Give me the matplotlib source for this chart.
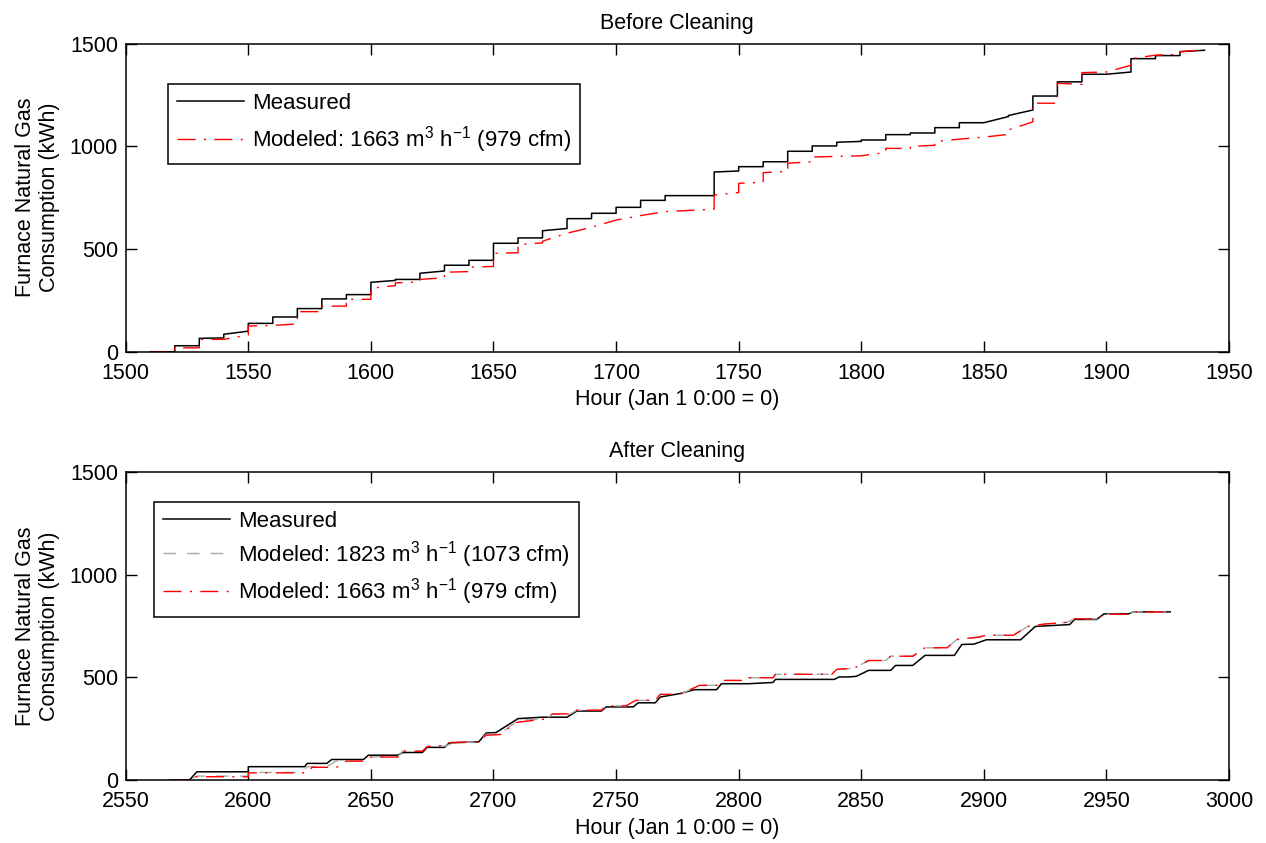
import matplotlib
matplotlib.use('Agg')
import matplotlib.pyplot as plt

plt.rcParams['font.family'] = ['Liberation Sans', 'DejaVu Sans']
plt.rcParams['mathtext.fontset'] = 'custom'
plt.rcParams['mathtext.rm'] = 'Liberation Sans'
plt.rcParams['mathtext.it'] = 'Liberation Sans:italic'
plt.rcParams['font.size'] = 15.5

# --- Before cleaning: measured vs modeled (1663 m3/h) cumulative gas use ---
before_meas_h = [1510, 1520, 1520, 1530, 1530, 1540, 1540, 1550, 1550, 1560, 1560, 1570, 1570,
                 1580, 1580, 1590, 1590, 1600, 1600, 1610, 1610, 1620, 1620, 1630, 1630, 1640,
                 1640, 1650, 1650, 1660, 1660, 1670, 1670, 1680, 1680, 1690, 1690, 1700, 1700,
                 1710, 1710, 1720, 1720, 1740, 1740, 1750, 1750, 1760, 1760, 1770, 1770, 1780,
                 1780, 1790, 1790, 1800, 1800, 1810, 1810, 1820, 1820, 1830, 1830, 1840, 1840,
                 1850, 1860, 1860, 1870, 1870, 1880, 1880, 1890, 1890, 1900, 1910, 1910, 1920,
                 1920, 1930, 1930, 1940]
before_meas_kwh = [0, 0, 29, 29, 65, 67, 85, 100, 138, 138, 169, 169, 210,
                   210, 257, 257, 278, 278, 338, 347, 352, 352, 382, 393, 421, 421,
                   445, 445, 528, 528, 554, 554, 589, 600, 648, 648, 674, 674, 703,
                   703, 737, 737, 760, 760, 875, 880, 901, 901, 925, 925, 976, 976,
                   1002, 1002, 1020, 1024, 1031, 1031, 1057, 1057, 1065, 1065, 1091, 1091, 1115,
                   1115, 1145, 1150, 1177, 1245, 1245, 1314, 1314, 1351, 1351, 1362, 1427, 1427,
                   1442, 1442, 1461, 1468]

before_mod_h = [1510, 1520, 1520, 1530, 1530, 1540, 1550, 1550, 1560, 1570, 1570, 1580, 1580,
                1590, 1590, 1600, 1600, 1610, 1610, 1620, 1620, 1630, 1630, 1640, 1640, 1650,
                1650, 1660, 1660, 1670, 1670, 1680, 1690, 1700, 1710, 1720, 1740, 1740, 1750,
                1750, 1760, 1760, 1770, 1770, 1780, 1780, 1800, 1810, 1810, 1820, 1820, 1830,
                1830, 1840, 1850, 1860, 1860, 1870, 1870, 1880, 1880, 1890, 1890, 1900, 1910,
                1910, 1920, 1930, 1930, 1940]
before_mod_kwh = [0, 0, 19, 19, 60, 60, 82, 125, 128, 135, 195, 195, 222,
                  222, 255, 255, 309, 322, 335, 340, 352, 360, 387, 390, 412, 415,
                  479, 482, 521, 530, 538, 577, 606, 641, 663, 682, 694, 763, 775,
                  820, 825, 872, 878, 918, 925, 948, 954, 970, 990, 990, 1000, 1005,
                  1023, 1035, 1045, 1058, 1080, 1119, 1210, 1210, 1307, 1302, 1359, 1362, 1395,
                  1427, 1444, 1448, 1461, 1470]

# --- After cleaning: measured vs two modeled flow rates ---
after_meas_h = [2568, 2576, 2579, 2600, 2600, 2623, 2624, 2632, 2634, 2647, 2649, 2661, 2663,
                2671, 2673, 2680, 2682, 2694, 2697, 2701, 2710, 2720, 2730, 2734, 2744, 2746,
                2757, 2759, 2766, 2768, 2776, 2782, 2791, 2793, 2804, 2814, 2815, 2839, 2841,
                2845, 2848, 2853, 2862, 2864, 2871, 2876, 2888, 2891, 2896, 2901, 2915, 2921,
                2935, 2937, 2946, 2949, 2959, 2961, 2976]
after_meas_kwh = [0, 0, 40, 40, 65, 65, 81, 81, 100, 100, 121, 121, 134,
                  134, 159, 159, 181, 186, 229, 231, 299, 306, 306, 336, 336, 356,
                  356, 376, 376, 404, 421, 440, 440, 469, 469, 475, 490, 490, 502,
                  502, 505, 534, 534, 558, 558, 607, 607, 660, 662, 683, 683, 748,
                  757, 782, 782, 809, 809, 819, 819]

after_mod1823_h = [2568, 2576, 2579, 2600, 2600, 2622, 2624, 2632, 2636, 2647, 2649, 2661, 2663,
                   2671, 2673, 2680, 2684, 2694, 2697, 2703, 2710, 2721, 2724, 2731, 2734, 2744,
                   2746, 2754, 2758, 2766, 2768, 2776, 2784, 2791, 2793, 2802, 2803, 2814, 2815,
                   2838, 2840, 2847, 2853, 2860, 2862, 2871, 2876, 2885, 2889, 2898, 2901, 2912,
                   2918, 2925, 2934, 2937, 2946, 2949, 2959, 2961, 2976]
after_mod1823_kwh = [0, 0, 19, 19, 37, 37, 65, 65, 94, 94, 113, 113, 142,
                     142, 162, 165, 181, 186, 222, 228, 291, 297, 320, 320, 340, 340,
                     361, 361, 388, 388, 417, 417, 461, 461, 485, 485, 498, 498, 515,
                     515, 539, 544, 582, 582, 603, 603, 644, 644, 684, 696, 705, 705,
                     748, 760, 768, 785, 785, 807, 807, 819, 819]

after_mod1663_h = [2568, 2576, 2579, 2600, 2600, 2624, 2626, 2636, 2640, 2648, 2650, 2661, 2663,
                   2671, 2673, 2679, 2683, 2694, 2697, 2703, 2709, 2721, 2724, 2731, 2734, 2744,
                   2746, 2754, 2758, 2766, 2768, 2776, 2784, 2791, 2793, 2802, 2803, 2814, 2815,
                   2838, 2840, 2847, 2853, 2860, 2862, 2871, 2876, 2885, 2889, 2898, 2901, 2912,
                   2918, 2925, 2934, 2937, 2946, 2949, 2959, 2961, 2976]
after_mod1663_kwh = [0, 0, 16, 16, 35, 35, 62, 62, 92, 92, 112, 112, 140,
                     140, 163, 168, 183, 186, 218, 222, 280, 297, 322, 322, 340, 340,
                     361, 361, 388, 388, 417, 417, 461, 461, 485, 485, 498, 498, 515,
                     515, 539, 544, 582, 582, 603, 603, 644, 644, 684, 696, 705, 705,
                     748, 760, 768, 785, 785, 807, 807, 819, 819]

lab_meas = 'Measured'
lab_1823 = 'Modeled: 1823 m$^{3}$ h$^{-1}$ (1073 cfm)'
lab_1663 = 'Modeled: 1663 m$^{3}$ h$^{-1}$ (979 cfm)'
ylab = 'Furnace Natural Gas\nConsumption (kWh)'
xlab = 'Hour (Jan 1 0:00 = 0)'

fig = plt.figure(figsize=(12.66, 8.43), dpi=100)
ax1 = fig.add_axes([0.0993, 0.5828, 0.8715, 0.3654])
ax2 = fig.add_axes([0.0993, 0.0747, 0.8715, 0.3654])

red_dd = (13, 6, 1.5, 6)

ax1.plot(before_meas_h, before_meas_kwh, color='black', lw=1.1, label=lab_meas)
ax1.plot(before_mod_h, before_mod_kwh, color='red', lw=1.0, dashes=red_dd, label=lab_1663)
ax1.set_xlim(1500, 1950)
ax1.set_title('Before Cleaning', pad=10.5, fontsize=15.5)

ax2.plot(after_meas_h, after_meas_kwh, color='black', lw=1.1, label=lab_meas)
ax2.plot(after_mod1823_h, after_mod1823_kwh, color='#a8a8a8', lw=1.0, dashes=(9, 8), label=lab_1823)
ax2.plot(after_mod1663_h, after_mod1663_kwh, color='red', lw=1.0, dashes=red_dd, label=lab_1663)
ax2.set_xlim(2550, 3000)
ax2.set_title('After Cleaning', pad=10.5, fontsize=15.5)

for ax in (ax1, ax2):
    ax.set_ylim(0, 1500)
    ax.set_yticks([0, 500, 1000, 1500])
    ax.set_xlabel(xlab, labelpad=4)
    ax.set_ylabel(ylab, labelpad=7)
    ax.tick_params(direction='in', top=True, right=True, length=8, width=1.0)
    ax.tick_params(axis='x', pad=8)
    ax.tick_params(axis='y', pad=5.5)
    for s in ax.spines.values():
        s.set_linewidth(1.1)

leg_kw = dict(loc='upper left', borderaxespad=0, fancybox=False, edgecolor='black',
              framealpha=1, handlelength=3.0, handletextpad=0.36, borderpad=0.42,
              fontsize=16)
l1 = ax1.legend(bbox_to_anchor=(0.038, 0.870), labelspacing=0.45, **leg_kw)
l2 = ax2.legend(bbox_to_anchor=(0.0253, 0.903), labelspacing=0.3, **leg_kw)
for lg in (l1, l2):
    lg.get_frame().set_linewidth(1.1)

fig.savefig('out.png', dpi=100)
